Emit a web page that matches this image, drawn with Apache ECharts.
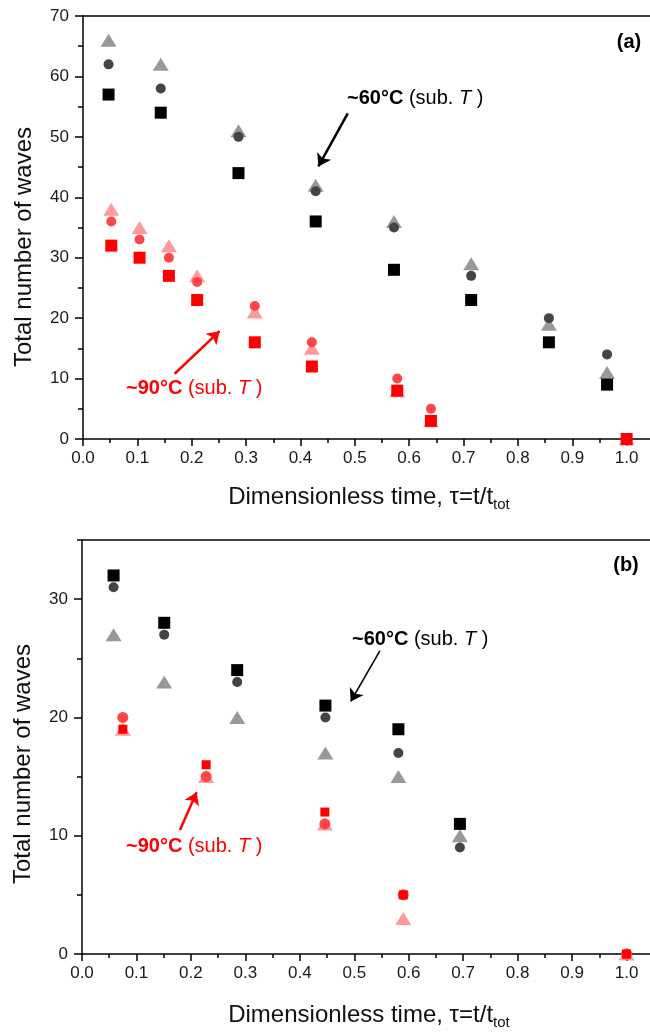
<!DOCTYPE html>
<html><head><meta charset="utf-8">
<script src="https://cdn.jsdelivr.net/npm/echarts@6/dist/echarts.min.js"></script>
<style>html,body{margin:0;padding:0;background:#fff}#c{width:650px;height:1035px;overflow:hidden}</style>
</head><body><div id="c"></div>
<script>
// ---------- DATA ----------
// Panel (a)
const xA60 = [0.047, 0.143, 0.286, 0.428, 0.572, 0.714, 0.857, 0.964];
const a60Square = [57, 54, 44, 36, 28, 23, 16, 9];
const a60Circle = [62, 58, 50, 41, 35, 27, 20, 14];
const a60Triangle = [66, 62, 51, 42, 36, 29, 19, 11];
const xA90 = [0.052, 0.104, 0.158, 0.210, 0.316, 0.421, 0.578, 0.640, 1.0];
const a90Square = [32, 30, 27, 23, 16, 12, 8, 3, 0];
const a90Circle = [36, 33, 30, 26, 22, 16, 10, 5, 0];
const a90Triangle = [38, 35, 32, 27, 21, 15, 8, 3, 0];
// Panel (b)
const xB60 = [0.058, 0.151, 0.285, 0.447, 0.581, 0.694];
const b60Square = [32, 28, 24, 21, 19, 11];
const b60Circle = [31, 27, 23, 20, 17, 9];
const b60Triangle = [27, 23, 20, 17, 15, 10];
const xB90 = [0.075, 0.228, 0.446, 0.590, 1.0];
const b90Square = [19, 16, 12, 5, 0];
const b90Circle = [20, 15, 11, 5, 0];
const b90Triangle = [19, 15, 11, 3, 0];
// Tick labels
const xTickValues = [0, 0.1, 0.2, 0.3, 0.4, 0.5, 0.6, 0.7, 0.8, 0.9, 1.0];
const yTicksA = [0, 10, 20, 30, 40, 50, 60, 70];
const yTicksB = [0, 10, 20, 30];
const yMinorB = [5, 15, 25, 35];
// Annotation arrows (data coords: [start, end])
const arrowA60 = [[0.487, 53.9], [0.433, 45.1]];
const arrowA90 = [[0.1686, 10.8], [0.2513, 17.84]];
const arrowB60 = [[0.547, 25.63], [0.4935, 21.35]];
const arrowB90 = [[0.180, 10.48], [0.2104, 13.67]];

// ---------- HELPERS ----------
const zip = (xs, ys) => xs.map((x, i) => [x, ys[i]]);
const FONT = 'Liberation Sans, Arial, sans-serif';
const C = {
  black: '#000000', dark: '#444444', grey: '#999999',
  red: '#ff0000', red2: '#ff4545', pink: '#ff9a9a'
};
function sc(g, data, symbol, size, color, extra) {
  return Object.assign({
    type: 'scatter', xAxisIndex: g === 0 ? 0 : 2, yAxisIndex: g === 0 ? 0 : 1,
    data, symbol, symbolSize: size, itemStyle: { color, opacity: 1 },
    clip: true, silent: true, z: 3
  }, extra || {});
}
function arrow(coords, color, width) {
  return {
    silent: true, animation: false, symbol: ['none', 'arrow'], symbolSize: 12,
    label: { show: false }, lineStyle: { color, width, type: 'solid' },
    itemStyle: { color },
    emphasis: { disabled: true },
    data: [[{ coord: coords[0] }, { coord: coords[1] }]]
  };
}
const axLine = { show: true, lineStyle: { color: '#000', width: 1.5 } };
function xAxisMain(gi) {
  return {
    type: 'value', gridIndex: gi, min: 0, max: 1.1, interval: 0.1, position: 'bottom',
    axisLine: Object.assign({ onZero: false }, axLine),
    axisTick: { show: true, inside: false, length: 7, lineStyle: { color: '#000', width: 1.5 } },
    minorTick: { show: true, splitNumber: 2, length: 4, lineStyle: { color: '#000', width: 1.5 } },
    splitLine: { show: false },
    axisLabel: {
      show: true, margin: 11, color: '#1a1a1a', fontSize: 17, fontFamily: FONT,
      customValues: xTickValues,
      formatter: v => v.toFixed(1)
    }
  };
}
function xAxisTop(gi) {
  return {
    type: 'value', gridIndex: gi, min: 0, max: 1.1, position: 'top',
    axisLine: Object.assign({ onZero: false }, axLine),
    axisTick: { show: false }, axisLabel: { show: false }, splitLine: { show: false }
  };
}

const chart = echarts.init(document.getElementById('c'), null, { renderer: 'canvas' });
const option = {
  animation: false,
  backgroundColor: '#fff',
  grid: [
    { left: 83, top: 16, width: 598, height: 423, containLabel: false, outerBoundsMode: 'none' },
    { left: 82, top: 540, width: 599, height: 414, containLabel: false, outerBoundsMode: 'none' }
  ],
  xAxis: [xAxisMain(0), xAxisTop(0), xAxisMain(1), xAxisTop(1)],
  yAxis: [
    {
      type: 'value', gridIndex: 0, min: 0, max: 70, interval: 10, position: 'left',
      axisLine: Object.assign({ onZero: false }, axLine),
      axisTick: { show: true, inside: false, length: 8, lineStyle: { color: '#000', width: 1.5 } },
      minorTick: { show: true, splitNumber: 2, length: 5, lineStyle: { color: '#000', width: 1.5 } },
      splitLine: { show: false },
      axisLabel: { margin: 14, color: '#1a1a1a', fontSize: 17, fontFamily: FONT, customValues: yTicksA }
    },
    {
      type: 'value', gridIndex: 1, min: 0, max: 35, interval: 5, position: 'left',
      axisLine: Object.assign({ onZero: false }, axLine),
      axisTick: { show: true, inside: false, length: 8, customValues: yTicksB, lineStyle: { color: '#000', width: 1.5 } },
      splitLine: { show: false },
      axisLabel: { margin: 14, color: '#1a1a1a', fontSize: 17, fontFamily: FONT, customValues: yTicksB }
    },
    {
      type: 'value', gridIndex: 1, min: 0, max: 35, interval: 5, position: 'left', offset: 0,
      axisLine: { show: false },
      axisTick: { show: true, inside: false, length: 5, customValues: yMinorB, lineStyle: { color: '#000', width: 1.5 } },
      splitLine: { show: false },
      axisLabel: { show: false }
    }
  ],
  series: [
    // Panel (a) ~60°C
    sc(0, zip(xA60, a60Triangle), 'triangle', [16, 13], C.grey),
    sc(0, zip(xA60, a60Circle), 'circle', 10, C.dark),
    sc(0, zip(xA60, a60Square), 'rect', 12, C.black, { markLine: arrow(arrowA60, '#000', 2.5) }),
    // Panel (a) ~90°C
    sc(0, zip(xA90, a90Triangle), 'triangle', [16, 13], C.pink),
    sc(0, zip(xA90, a90Circle), 'circle', 10, C.red2),
    sc(0, zip(xA90, a90Square), 'rect', 12, C.red, { markLine: arrow(arrowA90, '#ff0000', 2.5) }),
    // Panel (b) ~60°C
    sc(1, zip(xB60, b60Triangle), 'triangle', [16, 13], C.grey),
    sc(1, zip(xB60, b60Circle), 'circle', 10, C.dark),
    sc(1, zip(xB60, b60Square), 'rect', 12, C.black, { markLine: arrow(arrowB60, '#000', 1.6) }),
    // Panel (b) ~90°C
    sc(1, zip(xB90, b90Triangle), 'triangle', [16, 13], C.pink),
    sc(1, zip(xB90, b90Circle), 'circle', 11, C.red2),
    sc(1, zip(xB90, b90Square), 'rect', 9, C.red, { markLine: arrow(arrowB90, '#ff0000', 2.5) })
  ],
  graphic: []
};

const AF = 20;
const rich60 = {
  b: { fontFamily: FONT, fontSize: AF, fontWeight: 'bold', fill: '#000' },
  n: { fontFamily: FONT, fontSize: AF, fill: '#000' },
  i: { fontFamily: FONT, fontSize: AF, fontStyle: 'italic', fill: '#000' }
};
const rich90 = {
  b: { fontFamily: FONT, fontSize: AF, fontWeight: 'bold', fill: '#ff0000' },
  n: { fontFamily: FONT, fontSize: AF, fill: '#ff0000' },
  i: { fontFamily: FONT, fontSize: AF, fontStyle: 'italic', fill: '#ff0000' }
};
const annText = '{b|~60°C}{n| (sub. }{i|T}{n| )}';
const annText90 = '{b|~90°C}{n| (sub. }{i|T}{n| )}';
const xTitleRich = {
  a: { fontFamily: FONT, fontSize: 24, lineHeight: 30, fill: '#111' },
  s: { fontFamily: FONT, fontSize: 15, verticalAlign: 'bottom', fill: '#111' }
};
function txt(x, y, style, extra) {
  return Object.assign({ type: 'text', x, y, silent: true, z: 10, style }, extra || {});
}
option.graphic = [
  txt(629, 42, { text: '(a)', font: 'bold 20px ' + FONT, fill: '#000', align: 'center', verticalAlign: 'middle' }),
  txt(626, 565, { text: '(b)', font: 'bold 20px ' + FONT, fill: '#000', align: 'center', verticalAlign: 'middle' }),
  txt(347, 98, { text: annText, rich: rich60, align: 'left', verticalAlign: 'middle' }),
  txt(126, 388, { text: annText90, rich: rich90, align: 'left', verticalAlign: 'middle' }),
  txt(352, 639, { text: annText, rich: rich60, align: 'left', verticalAlign: 'middle' }),
  txt(126, 846, { text: annText90, rich: rich90, align: 'left', verticalAlign: 'middle' }),
  txt(369, 497, { text: '{a|Dimensionless time, τ=t/t}{s|tot}', rich: xTitleRich, align: 'center', verticalAlign: 'middle' }),
  txt(369, 1015, { text: '{a|Dimensionless time, τ=t/t}{s|tot}', rich: xTitleRich, align: 'center', verticalAlign: 'middle' }),
  txt(24, 247, { text: 'Total number of waves', font: '24px ' + FONT, fill: '#111', align: 'center', verticalAlign: 'middle' }, { rotation: Math.PI / 2 }),
  txt(23, 764, { text: 'Total number of waves', font: '24px ' + FONT, fill: '#111', align: 'center', verticalAlign: 'middle' }, { rotation: Math.PI / 2 })
];
chart.setOption(option);
</script>
</body></html>
